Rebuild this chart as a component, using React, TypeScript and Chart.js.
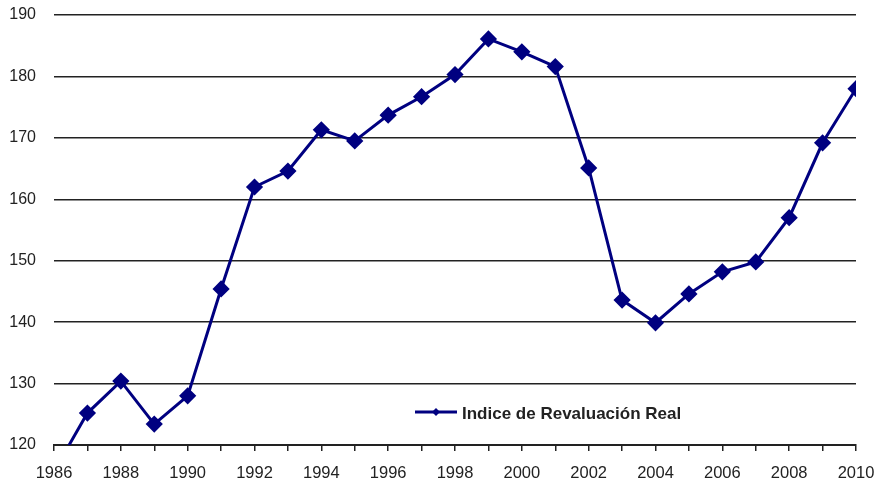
import React, { useEffect, useRef } from "react";
import { Chart, registerables } from "chart.js";

Chart.register(...registerables);

const years = [1986, 1987, 1988, 1989, 1990, 1991, 1992, 1993, 1994, 1995, 1996, 1997, 1998, 1999, 2000, 2001, 2002, 2003, 2004, 2005, 2006, 2007, 2008, 2009, 2010];
const indice = [115.7, 125.2, 130.4, 123.4, 128.0, 145.4, 162.0, 164.6, 171.3, 169.5, 173.7, 176.7, 180.3, 186.1, 184.0, 181.6, 165.1, 143.6, 139.9, 144.6, 148.2, 149.8, 157.0, 169.2, 178.0];
const seriesLabel = "Indice de Revaluación Real";
const yMin = 120;
const yMax = 190;

const NAVY = "#000080";
const FONT = "'Liberation Sans', Arial, sans-serif";

const legendPlugin = {
  id: "insideLegend",
  afterDraw(chart: any) {
    const ctx = chart.ctx;
    const x0 = 415;
    const y0 = 412;
    ctx.save();
    ctx.strokeStyle = NAVY;
    ctx.lineWidth = 3;
    ctx.beginPath();
    ctx.moveTo(x0, y0);
    ctx.lineTo(x0 + 42, y0);
    ctx.stroke();
    ctx.fillStyle = NAVY;
    const cx = x0 + 21;
    const r = 4;
    ctx.beginPath();
    ctx.moveTo(cx, y0 - r);
    ctx.lineTo(cx + r, y0);
    ctx.lineTo(cx, y0 + r);
    ctx.lineTo(cx - r, y0);
    ctx.closePath();
    ctx.fill();
    ctx.fillStyle = "#222";
    ctx.font = `bold 17px ${FONT}`;
    ctx.textBaseline = "middle";
    ctx.textAlign = "left";
    ctx.fillText(seriesLabel, x0 + 47, y0 + 2);
    ctx.restore();
  },
};

const noPad = (s: any) => {
  s.paddingTop = 0;
  s.paddingBottom = 0;
  s.paddingLeft = 0;
  s.paddingRight = 0;
};

export default function App() {
  const ref = useRef<HTMLCanvasElement>(null);
  useEffect(() => {
    if (!ref.current) return;
    const chart = new Chart(ref.current, {
      type: "line",
      data: {
        datasets: [
          {
            label: seriesLabel,
            data: years.map((y, i) => ({ x: y, y: indice[i] })),
            borderColor: NAVY,
            backgroundColor: NAVY,
            borderWidth: 3,
            pointStyle: "rectRot",
            pointRadius: 6.5,
            pointBackgroundColor: NAVY,
            pointBorderColor: NAVY,
            tension: 0,
          },
        ],
      },
      options: {
        animation: false,
        responsive: false,
        maintainAspectRatio: false,
        layout: { padding: { left: 0, right: 23, top: 15, bottom: 0 } },
        plugins: { legend: { display: false }, tooltip: { enabled: false } },
        scales: {
          x: {
            type: "linear",
            min: 1986,
            max: 2010,
            afterFit: (s: any) => {
              s.height = 38;
              noPad(s);
            },
            ticks: {
              stepSize: 1,
              autoSkip: false,
              maxRotation: 0,
              color: "#222",
              font: { family: FONT, size: 16.5 },
              padding: 13,
              callback: (v: any) => (Number(v) % 2 === 0 ? String(v) : ""),
            },
            grid: {
              display: true,
              drawOnChartArea: false,
              drawTicks: true,
              tickLength: 6,
              color: "#222",
              lineWidth: 1.5,
            },
            border: { display: true, color: "#222", width: 2 },
          },
          y: {
            min: yMin,
            max: yMax,
            afterFit: (s: any) => {
              s.width = 54;
              noPad(s);
            },
            ticks: {
              stepSize: 10,
              color: "#222",
              font: { family: FONT, size: 16 },
              padding: 18,
            },
            grid: {
              color: "#222",
              lineWidth: 1.5,
              drawTicks: false,
            },
            border: { display: false },
          },
        },
      },
      plugins: [legendPlugin],
    });
    return () => chart.destroy();
  }, []);
  return (
    <div style={{ position: "absolute", left: 0, top: 0, width: 879, height: 483, background: "#fff" }}>
      <canvas ref={ref} width={879} height={483} style={{ display: "block" }} />
    </div>
  );
}
